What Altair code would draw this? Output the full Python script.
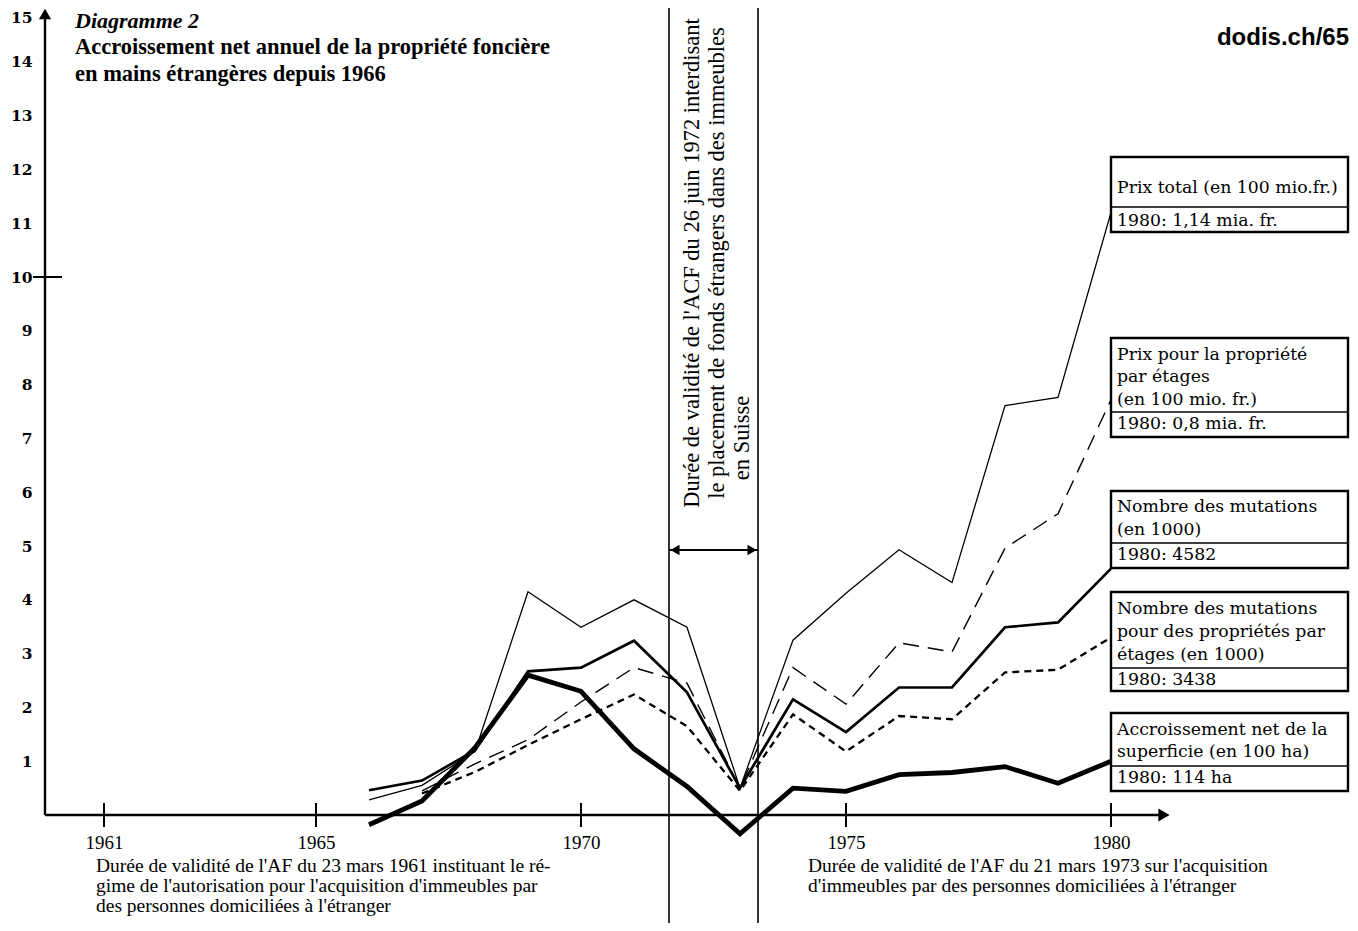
import altair as alt
import pandas as pd

# ---------------- data ----------------
years = list(range(1966, 1981))
prix_total = [0.28, 0.55, 1.18, 4.15, 3.49, 4.0, 3.49, 0.5, 3.25, 4.12, 4.93, 4.32, 7.61, 7.76, 11.2]
prix_etages = [None, 0.45, 0.95, 1.4, 2.1, 2.74, 2.45, 0.5, 2.74, 2.06, 3.2, 3.03, 4.96, 5.6, 7.72]
mutations = [0.46, 0.64, 1.2, 2.67, 2.74, 3.24, 2.28, 0.5, 2.15, 1.54, 2.37, 2.37, 3.49, 3.58, 4.58]
mut_etages = [None, 0.4, 0.8, 1.3, 1.78, 2.24, 1.65, 0.45, 1.87, 1.18, 1.84, 1.78, 2.65, 2.70, 3.3]
superficie = [-0.18, 0.26, 1.25, 2.6, 2.3, 1.23, 0.53, -0.35, 0.5, 0.44, 0.75, 0.79, 0.9, 0.59, 1.0]

series_names = ["prix_total", "prix_etages", "mutations", "mut_etages", "superficie"]
series_values = [prix_total, prix_etages, mutations, mut_etages, superficie]

x_tick_years = [1961, 1965, 1970, 1975, 1980]
y_tick_values = list(range(1, 16))
law_dates = [1971.66, 1973.34]   # 26 juin 1972 / 21 mars 1973 as drawn

box_titles = [
    ["Prix total (en 100 mio.fr.)"],
    ["Prix pour la propriété", "par étages", "(en 100 mio. fr.)"],
    ["Nombre des mutations", "(en 1000)"],
    ["Nombre des mutations", "pour des propriétés par", "étages (en 1000)"],
    ["Accroissement net de la", "superficie (en 100 ha)"],
]
box_values = ["1980: 1,14 mia. fr.", "1980: 0,8 mia. fr.", "1980: 4582", "1980: 3438", "1980: 114 ha"]

rows = []
for name, vals in zip(series_names, series_values):
    for yr, v in zip(years, vals):
        if v is not None:
            rows.append({"year": yr, "value": v, "series": name})
df = pd.DataFrame(rows)

# ---------------- geometry (plot px) ----------------
W, H = 1342, 915
px_per_year = 53.0
x0 = 1965 - 308 / px_per_year
x1 = x0 + W / px_per_year
y_zero_px = 807
y_top = 15.0
y_bottom = -(H - y_zero_px) / (y_zero_px / y_top)

xscale = alt.Scale(domain=[x0, x1], nice=False, zero=False)
yscale = alt.Scale(domain=[y_bottom, y_top], nice=False, zero=False)

xaxis = alt.Axis(values=x_tick_years, format="d", title=None, ticks=False, domain=False,
                 grid=False, offset=-(H - y_zero_px), labelPadding=18,
                 labelFont="Liberation Serif", labelFontSize=19, labelColor="black")
yaxis = alt.Axis(values=y_tick_values, title=None, ticks=False, domain=False, grid=False,
                 offset=-37, labelPadding=13, labelFont="DejaVu Serif", labelFontWeight="bold",
                 labelFontSize=15.5, labelColor="black", labelFlush=True,
                 labelOffset={"condition": {"test": "datum.value == 15", "value": 2}, "value": 0})

X = alt.X("year:Q", scale=xscale, axis=xaxis)
Y = alt.Y("value:Q", scale=yscale, axis=yaxis)

styles = {
    "prix_total": dict(strokeWidth=1.3),
    "prix_etages": dict(strokeWidth=1.4, strokeDash=[16, 9]),
    "mutations": dict(strokeWidth=2.7),
    "mut_etages": dict(strokeWidth=2.3, strokeDash=[7, 5]),
    "superficie": dict(strokeWidth=4.8),
}

layers = []
for name in series_names:
    layers.append(
        alt.Chart(df).transform_filter(alt.datum.series == name)
        .mark_line(color="black", strokeJoin="miter", **styles[name])
        .encode(x=X, y=Y)
    )

# law date vertical lines
law_df = pd.DataFrame({"year": law_dates})
layers.append(alt.Chart(law_df).mark_rule(color="black", strokeWidth=1.6).encode(x=X))

# double arrow between law dates
arrow_df = pd.DataFrame({"year": [law_dates[0]], "year2": [law_dates[1]]})
layers.append(alt.Chart(arrow_df).mark_rule(color="black", strokeWidth=2.2)
              .encode(x=X, x2="year2:Q", y=alt.value(542)))
layers.append(alt.Chart(pd.DataFrame({"year": [law_dates[0]]}))
              .mark_point(shape="triangle-left", filled=True, size=110, color="black", opacity=1, xOffset=6)
              .encode(x=X, y=alt.value(542)))
layers.append(alt.Chart(pd.DataFrame({"year": [law_dates[1]]}))
              .mark_point(shape="triangle-right", filled=True, size=110, color="black", opacity=1, xOffset=-6)
              .encode(x=X, y=alt.value(542)))

# axes lines + arrows
layers.append(alt.Chart(pd.DataFrame({"a": [0]})).mark_rule(color="black", strokeWidth=2.4)
              .encode(x=alt.value(37), x2=alt.value(1152), y=alt.value(y_zero_px)))
layers.append(alt.Chart(pd.DataFrame({"a": [0]})).mark_rule(color="black", strokeWidth=2.4)
              .encode(x=alt.value(37), y=alt.value(6), y2=alt.value(y_zero_px)))
layers.append(alt.Chart(pd.DataFrame({"a": [0]}))
              .mark_point(shape="triangle-right", filled=True, size=170, color="black", opacity=1)
              .encode(x=alt.value(1156), y=alt.value(y_zero_px)))
layers.append(alt.Chart(pd.DataFrame({"a": [0]}))
              .mark_point(shape="triangle-up", filled=True, size=150, color="black", opacity=1)
              .encode(x=alt.value(37), y=alt.value(6)))

# x ticks crossing the axis
xt_df = pd.DataFrame({"year": x_tick_years})
layers.append(alt.Chart(xt_df).mark_rule(color="black", strokeWidth=2)
              .encode(x=X, y=alt.value(y_zero_px - 12), y2=alt.value(y_zero_px + 12)))
# the tick at 10 on the y axis
layers.append(alt.Chart(pd.DataFrame({"value": [10]})).mark_rule(color="black", strokeWidth=2)
              .encode(y=Y, x=alt.value(25), x2=alt.value(54)))

# legend boxes
box_y = [(149, 224, 199), (330, 429, 404), (483, 560, 535), (584, 683, 660), (705, 783, 758)]
box_rows = [{"x": 1103, "x2": 1340, "y": a, "y2": b} for a, b, _ in box_y]
div_rows = [{"x": 1103, "x2": 1340, "y": d} for _, _, d in box_y]
layers.append(alt.Chart(pd.DataFrame(box_rows)).mark_rect(fill="white", stroke="black", strokeWidth=2.4)
              .encode(x=alt.X("x:Q", scale=None), x2="x2:Q", y=alt.Y("y:Q", scale=None), y2="y2:Q"))
layers.append(alt.Chart(pd.DataFrame(div_rows)).mark_rule(color="black", strokeWidth=1.5)
              .encode(x=alt.X("x:Q", scale=None), x2="x2:Q", y=alt.Y("y:Q", scale=None)))

title_rows_y = [[180], [347, 369, 392], [499, 522], [601, 624, 647], [722, 744]]
value_rows_y = [213, 416, 547, 672, 770]
bt = []
for lines, ys in zip(box_titles, title_rows_y):
    for t, yy in zip(lines, ys):
        bt.append({"x": 1109, "y": yy, "t": t})
for t, yy in zip(box_values, value_rows_y):
    bt.append({"x": 1109, "y": yy, "t": t})


def text_layer(rows, **kw):
    return (alt.Chart(pd.DataFrame(rows))
            .mark_text(color="black", baseline="middle", **kw)
            .encode(x=alt.X("x:Q", scale=None), y=alt.Y("y:Q", scale=None), text="t:N"))


layers.append(text_layer(bt, align="left", font="DejaVu Serif", fontSize=17.3))

# titles
layers.append(text_layer([{"x": 67, "y": 13, "t": "Diagramme 2"}], align="left",
                         font="Liberation Serif", fontSize=22, fontStyle="italic", fontWeight="bold"))
layers.append(text_layer([{"x": 67, "y": 39, "t": "Accroissement net annuel de la propriété foncière"},
                          {"x": 67, "y": 66, "t": "en mains étrangères depuis 1966"}],
                         align="left", font="Liberation Serif", fontSize=22.5, fontWeight="bold"))
layers.append(text_layer([{"x": 1341, "y": 30, "t": "dodis.ch/65"}], align="right",
                         font="Liberation Sans", fontSize=24, fontWeight="bold"))

# bottom notes
layers.append(text_layer([
    {"x": 88, "y": 858, "t": "Durée de validité de l'AF du 23 mars 1961 instituant le ré-"},
    {"x": 88, "y": 878, "t": "gime de l'autorisation pour l'acquisition d'immeubles par"},
    {"x": 88, "y": 898, "t": "des personnes domiciliées à l'étranger"},
    {"x": 800, "y": 858, "t": "Durée de validité de l'AF du 21 mars 1973 sur l'acquisition"},
    {"x": 800, "y": 878, "t": "d'immeubles par des personnes domiciliées à l'étranger"},
], align="left", font="Liberation Serif", fontSize=19.5))

# rotated note between the law lines
layers.append(text_layer([
    {"x": 684, "y": 255, "t": "Durée de validité de l'ACF du 26 juin 1972 interdisant"},
    {"x": 709, "y": 255, "t": "le placement de fonds étrangers dans des immeubles"},
    {"x": 734, "y": 430, "t": "en Suisse"},
], align="center", angle=270, font="Liberation Serif", fontSize=22.5))

chart = (alt.layer(*layers)
         .properties(width=W, height=H, padding=0, autosize=alt.AutoSizeParams(type="none"),
                     background="white")
         .configure_view(stroke=None))

chart.save("out.html", embed_options={"renderer": "svg", "actions": False})
